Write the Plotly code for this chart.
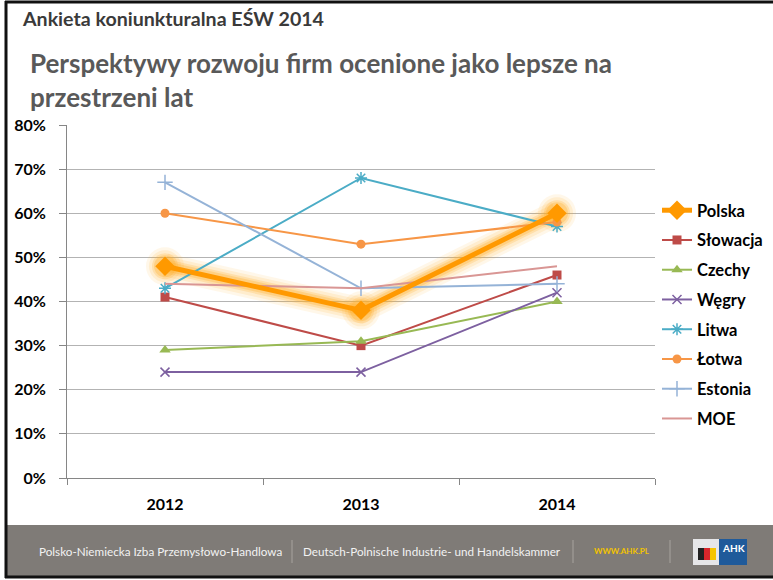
import plotly.graph_objects as go

years = ["2012", "2013", "2014"]
series_names = ["Polska", "Słowacja", "Czechy", "Węgry", "Litwa", "Łotwa", "Estonia", "MOE"]
polska = [0.48, 0.38, 0.60]
slowacja = [0.41, 0.30, 0.46]
czechy = [0.29, 0.31, 0.40]
wegry = [0.24, 0.24, 0.42]
litwa = [0.43, 0.68, 0.57]
lotwa = [0.60, 0.53, 0.58]
estonia = [0.67, 0.43, 0.44]
moe = [0.44, 0.43, 0.48]
y_ticks = [0, 0.1, 0.2, 0.3, 0.4, 0.5, 0.6, 0.7, 0.8]
y_tick_labels = ["0%", "10%", "20%", "30%", "40%", "50%", "60%", "70%", "80%"]

values = [polska, slowacja, czechy, wegry, litwa, lotwa, estonia, moe]
colors = ["#FF9900", "#BE4B48", "#98B954", "#7D60A0", "#4BACC6", "#F79646", "#95B3D7", "#D99694"]
symbols = ["diamond", "square", "triangle-up", "x-thin-open", "asterisk-open", "circle", "cross-thin-open", None]
sizes = [15, 9, 10, 9, 10, 9, 11, 0]
widths = [5, 2, 2, 2, 2, 2, 2, 2]

W, H = 773, 580
L, R, T, B = 67, 655, 125, 478

def px(x):
    return (x - L) / (R - L)

def py(y):
    return (B - y) / (B - T)

fig = go.Figure()

# glow behind Polska
for w, a in [(26, 0.10), (20, 0.14), (14, 0.22), (10, 0.3)]:
    fig.add_trace(go.Scatter(
        x=years, y=polska, mode="lines+markers", showlegend=False, hoverinfo="skip",
        line=dict(color=f"rgba(255,175,40,{a})", width=w),
        marker=dict(symbol="circle", size=w + 12, color=f"rgba(255,175,40,{a})"),
    ))

order = [1, 2, 3, 4, 5, 6, 7, 0]
for i in order:
    name = series_names[i]
    kw = dict(x=years, y=values[i], name=f"<b>{name}</b>", legendgroup=name, legendrank=i + 1,
              line=dict(color=colors[i], width=widths[i]))
    if symbols[i] is None:
        kw["mode"] = "lines"
    else:
        kw["mode"] = "lines+markers"
        mk = dict(symbol=symbols[i], size=sizes[i], color=colors[i])
        if symbols[i].endswith("open"):
            mk["line"] = dict(color=colors[i], width=1.5)
        kw["marker"] = mk
    fig.add_trace(go.Scatter(**kw))

shapes = []
# footer band
shapes.append(dict(type="rect", xref="paper", yref="paper", x0=px(6), x1=px(773), y0=py(576), y1=py(525),
                   fillcolor="#7F7B77", line=dict(width=0), layer="below"))
# separators
for sx in [292, 573, 670]:
    shapes.append(dict(type="line", xref="paper", yref="paper", x0=px(sx), x1=px(sx), y0=py(563), y1=py(540),
                       line=dict(color="#A8A49F", width=1)))
# logo
shapes.append(dict(type="rect", xref="paper", yref="paper", x0=px(693), x1=px(747), y0=py(565), y1=py(539),
                   fillcolor="#E6E6E8", line=dict(width=0)))
shapes.append(dict(type="rect", xref="paper", yref="paper", x0=px(719), x1=px(747), y0=py(565), y1=py(539),
                   fillcolor="#1F5A9A", line=dict(width=0)))
shapes.append(dict(type="rect", xref="paper", yref="paper", x0=px(698), x1=px(704), y0=py(560), y1=py(548),
                   fillcolor="#222222", line=dict(width=0)))
shapes.append(dict(type="rect", xref="paper", yref="paper", x0=px(704), x1=px(710), y0=py(560), y1=py(548),
                   fillcolor="#D9262B", line=dict(width=0)))
shapes.append(dict(type="rect", xref="paper", yref="paper", x0=px(710), x1=px(716), y0=py(560), y1=py(548),
                   fillcolor="#F5C400", line=dict(width=0)))
# slide border
shapes.append(dict(type="line", xref="paper", yref="paper", x0=px(5), x1=px(773), y0=py(2), y1=py(2),
                   line=dict(color="#111111", width=3)))
shapes.append(dict(type="line", xref="paper", yref="paper", x0=px(6), x1=px(6), y0=py(1), y1=py(578),
                   line=dict(color="#111111", width=3)))
shapes.append(dict(type="line", xref="paper", yref="paper", x0=px(5), x1=px(773), y0=py(577), y1=py(577),
                   line=dict(color="#111111", width=3)))

annotations = [
    dict(text="<b>Ankieta koniunkturalna EŚW 2014</b>", x=px(20), y=py(18), xref="paper", yref="paper",
         xanchor="left", yanchor="middle", showarrow=False, font=dict(size=19.6, color="#3A3A3A", family="Lato")),
    dict(text="<b>Perspektywy rozwoju firm ocenione jako lepsze na</b>", x=px(28), y=py(63), xref="paper", yref="paper",
         xanchor="left", yanchor="middle", showarrow=False, font=dict(size=26, color="#595959", family="Lato")),
    dict(text="<b>przestrzeni lat</b>", x=px(28), y=py(97), xref="paper", yref="paper",
         xanchor="left", yanchor="middle", showarrow=False, font=dict(size=26, color="#595959", family="Lato")),
    dict(text="Polsko-Niemiecka Izba Przemysłowo-Handlowa", x=px(284), y=py(551), xref="paper", yref="paper",
         xanchor="right", yanchor="middle", showarrow=False, font=dict(size=11.7, color="#F2F2F2", family="Lato")),
    dict(text="Deutsch-Polnische Industrie- und Handelskammer", x=px(301), y=py(551), xref="paper", yref="paper",
         xanchor="left", yanchor="middle", showarrow=False, font=dict(size=11.7, color="#F2F2F2", family="Lato")),
    dict(text="<b>WWW.AHK.PL</b>", x=px(622), y=py(551), xref="paper", yref="paper",
         xanchor="center", yanchor="middle", showarrow=False, font=dict(size=8, color="#F2C200", family="Lato")),
    dict(text="<b>AHK</b>", x=px(733), y=py(548), xref="paper", yref="paper",
         xanchor="center", yanchor="middle", showarrow=False, font=dict(size=10, color="#FFFFFF", family="Lato")),
]

fig.update_layout(
    width=W, height=H,
    margin=dict(l=L, r=W - R, t=T, b=H - B, pad=0, autoexpand=False),
    paper_bgcolor="white", plot_bgcolor="white",
    font=dict(family="Lato", color="#000000"),
    showlegend=True,
    legend=dict(x=px(657), y=py(193), xanchor="left", yanchor="top",
                font=dict(size=16.5, color="#000000", family="Lato"),
                tracegroupgap=5.3, itemwidth=30, bgcolor="rgba(0,0,0,0)",
                traceorder="grouped"),
    shapes=shapes, annotations=annotations,
    xaxis=dict(type="category", range=[-0.5, 2.5], showgrid=False, showline=True, linecolor="#868686",
               ticks="outside", ticklen=6, tickcolor="#868686", tickson="boundaries",
               tickfont=dict(size=16, color="#000000", family="Lato"), tickprefix="<b>", ticksuffix="</b>",
               ticklabelstandoff=12, fixedrange=True),
    yaxis=dict(range=[0, 0.8], tickvals=y_ticks, ticktext=[f"<b>{t}</b>" for t in y_tick_labels],
               showgrid=True, gridcolor="#B3B3B3", gridwidth=1, showline=True, linecolor="#868686",
               ticks="outside", ticklen=7, tickcolor="#868686", zeroline=False,
               tickfont=dict(size=16, color="#000000", family="Lato"), ticklabelstandoff=10,
               fixedrange=True),
)

fig.write_html("out.html", config={"displayModeBar": False},
               post_script="document.body.style.margin='0';")
